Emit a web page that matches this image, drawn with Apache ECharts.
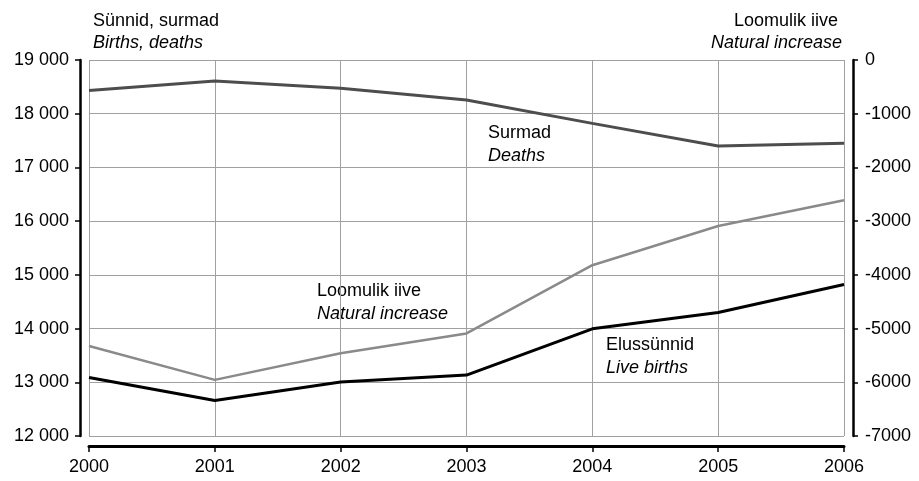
<!DOCTYPE html>
<html><head><meta charset="utf-8">
<script src="https://cdn.jsdelivr.net/npm/echarts@6/dist/echarts.min.js"></script>
<style>html,body{margin:0;padding:0;background:#fff}#c{width:919px;height:481px}</style>
</head><body><div id="c"></div>
<script>
const years = ['2000','2001','2002','2003','2004','2005','2006'];
const deaths = [18430, 18610, 18475, 18255, 17820, 17400, 17450];
const births = [13090, 12660, 13005, 13135, 13995, 14300, 14820];
const naturalIncrease = [-5325, -5955, -5460, -5090, -3820, -3090, -2610];
const leftTicks = {min: 12000, max: 19000, step: 1000};
const rightTicks = {min: -7000, max: 0, step: 1000};

const FONT = 'Liberation Sans, Arial, sans-serif';
const FS = 18;
const chart = echarts.init(document.getElementById('c'), null, {renderer: 'canvas'});
const txt = (x, y, text, italic) => ({
  type: 'text', left: x, top: y - 8,
  style: {text: text, font: (italic ? 'italic ' : '') + FS + 'px ' + FONT, fill: '#000'}
});
chart.setOption({
  animation: false,
  grid: {left: 89, right: 75, top: 60, bottom: 45},
  xAxis: {
    type: 'category', data: years, boundaryGap: false,
    offset: 10,
    axisLine: {onZero: false, lineStyle: {color: '#000', width: 3}},
    axisTick: {show: true, length: 6, lineStyle: {color: '#000', width: 1.5}},
    axisLabel: {color: '#000', fontSize: FS, fontFamily: FONT, margin: 12},
    splitLine: {show: true, lineStyle: {color: '#a0a0a0', width: 1}}
  },
  yAxis: [{
    type: 'value', position: 'left', min: leftTicks.min, max: leftTicks.max, interval: leftTicks.step,
    offset: 9,
    axisLine: {show: true, lineStyle: {color: '#000', width: 2.5}},
    axisTick: {show: true, length: 5, lineStyle: {color: '#000', width: 1.5}},
    axisLabel: {color: '#000', fontSize: FS, fontFamily: FONT, margin: 11,
      formatter: v => String(v).replace(/\B(?=(\d{3})+(?!\d))/g, ' ')},
    splitLine: {show: true, lineStyle: {color: '#a0a0a0', width: 1}}
  }, {
    type: 'value', position: 'right', min: rightTicks.min, max: rightTicks.max, interval: rightTicks.step,
    offset: 9,
    axisLine: {show: true, lineStyle: {color: '#000', width: 2.5}},
    axisTick: {show: true, length: 5, lineStyle: {color: '#000', width: 1.5}},
    axisLabel: {color: '#000', fontSize: FS, fontFamily: FONT, margin: 12, formatter: v => String(v)},
    splitLine: {show: false}
  }],
  series: [
    {type: 'line', name: 'Deaths', data: deaths, yAxisIndex: 0, symbol: 'none', lineStyle: {color: '#4d4d4d', width: 3}},
    {type: 'line', name: 'Live births', data: births, yAxisIndex: 0, symbol: 'none', lineStyle: {color: '#000', width: 3}},
    {type: 'line', name: 'Natural increase', data: naturalIncrease, yAxisIndex: 1, symbol: 'none', lineStyle: {color: '#8a8a8a', width: 2.5}}
  ],
  graphic: [
    txt(93, 20, 'Sünnid, surmad', false),
    txt(93, 42, 'Births, deaths', true),
    {type: 'text', right: 81, top: 12, style: {text: 'Loomulik iive', font: FS + 'px ' + FONT, fill: '#000'}},
    {type: 'text', right: 77, top: 34, style: {text: 'Natural increase', font: 'italic ' + FS + 'px ' + FONT, fill: '#000'}},
    txt(488, 132, 'Surmad', false),
    txt(488, 155, 'Deaths', true),
    txt(317, 290, 'Loomulik iive', false),
    txt(317, 313, 'Natural increase', true),
    txt(606, 344, 'Elussünnid', false),
    txt(606, 367, 'Live births', true)
  ]
});
</script></body></html>
